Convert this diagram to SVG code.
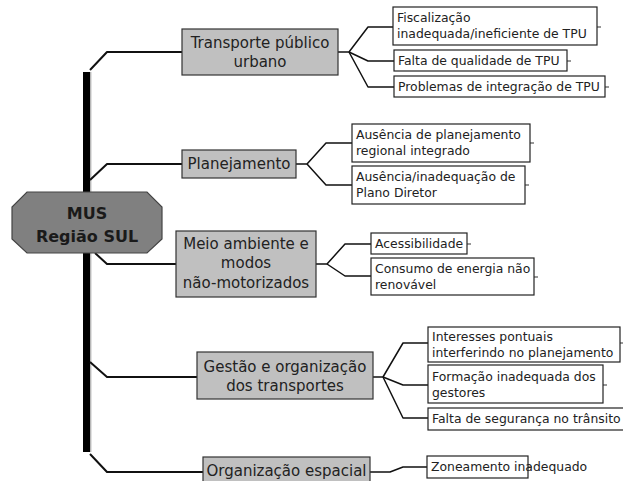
<svg xmlns="http://www.w3.org/2000/svg" width="623" height="481" viewBox="0 0 623 481">
<style>
  .main rect { fill: #c0c0c0; stroke: #333; stroke-width: 1.2; }
  .leaf rect { fill: #fff; stroke: #222; stroke-width: 1.2; }
  .mt { font-family: "DejaVu Sans", sans-serif; font-size: 15px; fill: #222; text-anchor: middle; }
  .lt { font-family: "DejaVu Sans", sans-serif; font-size: 12.4px; fill: #222; }
  .con { fill: none; stroke: #111; stroke-width: 2; stroke-linejoin: round; }
  .fan { fill: none; stroke: #111; stroke-width: 1.5; stroke-linejoin: round; }
  .stub { fill: none; stroke: #333; stroke-width: 1.2; }
</style>
<rect width="623" height="481" fill="#fff"/>
<g id="connectors">
  <rect x="83" y="72" width="7" height="380" fill="#000"/>
  <line x1="90.8" y1="72" x2="90.8" y2="452" stroke="#999" stroke-width="1"/>
  <polyline class="con" points="90,70 107,52 182,52"/>
  <polyline class="con" points="90,180 107,164 182,164"/>
  <polyline class="con" points="95,253 107,264 176,264"/>
  <polyline class="con" points="90,362 107,377 197,377"/>
  <polyline class="con" points="90,454 107,472 203,472"/>
  <polyline class="fan" points="338,52 349,52 368,27 393,27"/>
  <polyline class="fan" points="349,52 368,61 394,61"/>
  <polyline class="fan" points="349,52 368,87 394,87"/>
  <polyline class="fan" points="296,164 307,164 326,143 352,143"/>
  <polyline class="fan" points="307,164 326,185 352,185"/>
  <polyline class="fan" points="316,264 327,264 345,244 371,244"/>
  <polyline class="fan" points="327,264 345,276 371,276"/>
  <polyline class="fan" points="373,377 383,377 403,343 428,343"/>
  <polyline class="fan" points="383,377 403,385 428,385"/>
  <polyline class="fan" points="383,377 403,418 428,418"/>
  <polyline class="fan" points="370,472 390,472 403,467 427,467"/>
  <path class="stub" d="M597,27h4M567,61h4M605,87h4M530,143h4M525,185h4M467,244h4M534,277h4M620,343h3M603,385h4M528,467h4"/>
</g>
<g id="mus">
  <polygon points="27,192 147,192 162,207 162,239 147,253 27,253 12,239 12,207" fill="#808080" stroke="#444" stroke-width="1.2"/>
  <text x="87" y="219" font-family="DejaVu Sans, sans-serif" font-size="16px" font-weight="bold" fill="#1a1a1a" text-anchor="middle">MUS</text>
  <text x="87" y="242" font-family="DejaVu Sans, sans-serif" font-size="16px" font-weight="bold" fill="#1a1a1a" text-anchor="middle">Região SUL</text>
</g>
<g id="transporte" class="main">
  <rect x="182" y="29" width="156" height="46"/>
  <text class="mt" x="260" y="48">Transporte público</text>
  <text class="mt" x="260" y="67">urbano</text>
</g>
<g id="planejamento" class="main">
  <rect x="182" y="150" width="114" height="28"/>
  <text class="mt" x="239" y="169">Planejamento</text>
</g>
<g id="meio" class="main">
  <rect x="176" y="231" width="140" height="66"/>
  <text class="mt" x="246" y="249">Meio ambiente e</text>
  <text class="mt" x="246" y="268">modos</text>
  <text class="mt" x="246" y="288">não-motorizados</text>
</g>
<g id="gestao" class="main">
  <rect x="197" y="352" width="176" height="47"/>
  <text class="mt" x="285" y="372">Gestão e organização</text>
  <text class="mt" x="285" y="391">dos transportes</text>
</g>
<g id="organizacao" class="main">
  <rect x="203" y="457" width="167" height="30"/>
  <text class="mt" x="286.5" y="476">Organização espacial</text>
</g>
<g id="fiscalizacao" class="leaf">
  <rect x="393" y="7" width="204" height="38"/>
  <text class="lt" x="397" y="22">Fiscalização</text>
  <text class="lt" x="397" y="38">inadequada/ineficiente de TPU</text>
</g>
<g id="falta-qualidade" class="leaf">
  <rect x="394" y="50" width="173" height="21"/>
  <text class="lt" x="398" y="65">Falta de qualidade de TPU</text>
</g>
<g id="problemas" class="leaf">
  <rect x="394" y="76" width="211" height="21"/>
  <text class="lt" x="398" y="91">Problemas de integração de TPU</text>
</g>
<g id="ausencia-plan" class="leaf">
  <rect x="352" y="124" width="178" height="38"/>
  <text class="lt" x="356" y="139">Ausência de planejamento</text>
  <text class="lt" x="356" y="155">regional integrado</text>
</g>
<g id="ausencia-plano" class="leaf">
  <rect x="352" y="166" width="173" height="38"/>
  <text class="lt" x="356" y="181">Ausência/inadequação de</text>
  <text class="lt" x="356" y="197">Plano Diretor</text>
</g>
<g id="acessibilidade" class="leaf">
  <rect x="371" y="233" width="96" height="21"/>
  <text class="lt" x="375" y="248">Acessibilidade</text>
</g>
<g id="consumo" class="leaf">
  <rect x="371" y="258" width="163" height="37"/>
  <text class="lt" x="375" y="273">Consumo de energia não</text>
  <text class="lt" x="375" y="289">renovável</text>
</g>
<g id="interesses" class="leaf">
  <rect x="428" y="327" width="192" height="35"/>
  <text class="lt" x="432" y="341">Interesses pontuais</text>
  <text class="lt" x="432" y="357">interferindo no planejamento</text>
</g>
<g id="formacao" class="leaf">
  <rect x="428" y="365" width="175" height="38"/>
  <text class="lt" x="432" y="381">Formação inadequada dos</text>
  <text class="lt" x="432" y="397">gestores</text>
</g>
<g id="seguranca" class="leaf">
  <rect x="428" y="408" width="197" height="22"/>
  <text class="lt" x="432" y="423">Falta de segurança no trânsito</text>
</g>
<g id="zoneamento" class="leaf">
  <rect x="427" y="456" width="101" height="22"/>
  <text class="lt" x="431" y="471">Zoneamento inadequado</text>
</g>
</svg>
